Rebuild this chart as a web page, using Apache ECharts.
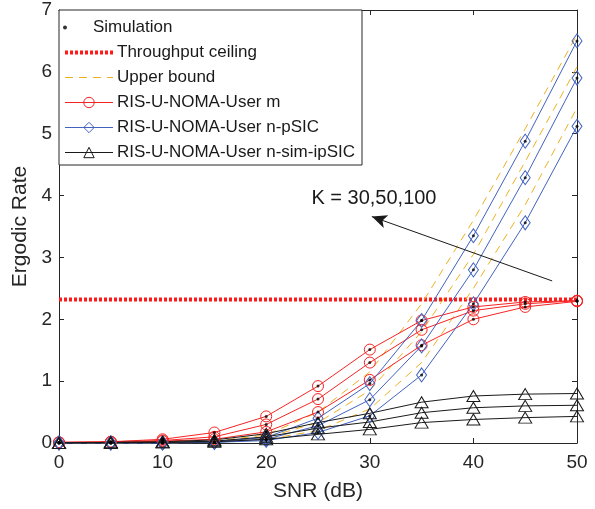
<!DOCTYPE html>
<html lang="en">
<head>
  <meta charset="UTF-8">
  <title>Ergodic Rate vs SNR</title>
  <script src="https://cdn.jsdelivr.net/npm/echarts@6/dist/echarts.min.js"></script>
  <style>
    html, body { margin: 0; padding: 0; background: #fff; }
    #echarts { width: 595px; height: 509px; }
  </style>
</head>
<body>
  <div id="echarts"></div>
  <script>
    // SNR (dB) sample points
    let snr = [0, 5, 10, 15, 20, 25, 30, 35, 40, 45, 50]
    let xTicks = [0, 10, 20, 30, 40, 50]
    let yTicks = [0, 1, 2, 3, 4, 5, 6, 7]

    // RIS-U-NOMA-User m
    let userM100 = [0.01, 0.02, 0.06, 0.17, 0.43, 0.92, 1.51, 1.98, 2.20, 2.28, 2.30]
    let userM50 = [0.01, 0.02, 0.04, 0.10, 0.30, 0.71, 1.30, 1.83, 2.14, 2.25, 2.30]
    let userM30 = [0.01, 0.01, 0.03, 0.06, 0.18, 0.50, 1.02, 1.58, 2.00, 2.20, 2.29]
    // RIS-U-NOMA-User n-pSIC
    let userN100 = [0, 0, 0, 0.02, 0.09, 0.40, 0.96, 1.98, 3.35, 4.88, 6.50]
    let userN50 = [0, 0, 0, 0.01, 0.06, 0.28, 0.70, 1.57, 2.80, 4.29, 5.90]
    let userN30 = [0, 0, 0, 0.01, 0.04, 0.17, 0.44, 1.10, 2.25, 3.56, 5.12]
    // Upper bound of n-pSIC
    let upper100 = [0, 0, 0.01, 0.03, 0.13, 0.50, 1.15, 2.25, 3.60, 5.08, 6.60]
    let upper50 = [0, 0, 0, 0.02, 0.09, 0.33, 0.85, 1.80, 3.05, 4.55, 6.08]
    let upper30 = [0, 0, 0, 0.01, 0.06, 0.20, 0.55, 1.30, 2.50, 3.85, 5.42]
    // RIS-U-NOMA-User n-sim-ipSIC
    let userS100 = [0, 0.01, 0.02, 0.05, 0.15, 0.33, 0.48, 0.66, 0.76, 0.79, 0.80]
    let userS50 = [0, 0.01, 0.01, 0.03, 0.10, 0.24, 0.34, 0.49, 0.57, 0.60, 0.61]
    let userS30 = [0, 0, 0.01, 0.02, 0.06, 0.14, 0.22, 0.33, 0.38, 0.41, 0.43]
    // throughput ceiling
    let ceiling = 2.32
    let ceilingRange = [0, 50]
    // annotation arrow (tail -> head) and its label, in data units
    let arrowFrom = [47.6, 2.62]
    let arrowTo = [30.2, 3.66]
    let kText = 'K = 30,50,100'
    let kTextAt = [30.4, 3.96]

    const RED = '#f52424'
    const BLUE = '#4262be'
    const BLACK = '#1a1a1a'
    const ORANGE = '#edb120'
    const AXIS = '#262626'
    const FONT = 'Liberation Sans, Arial, Helvetica, sans-serif'

    const pairs = arr => snr.map((s, i) => [s, arr[i]])

    function curve(name, arr, color, symbol, size) {
      return {
        name, type: 'line', data: pairs(arr),
        symbol, symbolSize: size, showSymbol: true,
        lineStyle: { color, width: 1 },
        itemStyle: { color: 'transparent', borderColor: color, borderWidth: 1 },
        emphasis: { disabled: true }, silent: true, animation: false, z: 3
      }
    }
    function bound(arr) {
      return {
        name: 'Upper bound', type: 'line', data: pairs(arr), symbol: 'none',
        lineStyle: { color: ORANGE, width: 1, type: [8, 6] },
        itemStyle: { color: ORANGE },
        silent: true, animation: false, z: 2
      }
    }

    let series = []
    series.push({
      name: 'Throughput ceiling', type: 'line',
      data: ceilingRange.map(x => [x, ceiling]), symbol: 'none',
      lineStyle: { color: '#ff1a1a', width: 4, type: [3, 2] },
      itemStyle: { color: '#ff1a1a' },
      silent: true, animation: false, z: 2,
      markLine: {
        silent: true, animation: false,
        symbol: ['none', 'arrow'], symbolSize: [10, 15],
        lineStyle: { color: BLACK, width: 1, type: 'solid' },
        label: { show: false },
        data: [[{ coord: arrowFrom }, { coord: arrowTo }]]
      },
      markPoint: {
        silent: true, animation: false, symbol: 'circle', symbolSize: 0,
        label: { show: true, position: 'inside', formatter: kText, color: BLACK, fontSize: 20, fontFamily: FONT },
        data: [{ coord: kTextAt }]
      }
    })
    ;[upper100, upper50, upper30].forEach(a => series.push(bound(a)))
    ;[userM100, userM50, userM30].forEach(a => series.push(curve('RIS-U-NOMA-User m', a, RED, 'circle', 11)))
    ;[userN100, userN50, userN30].forEach(a => series.push(curve('RIS-U-NOMA-User n-pSIC', a, BLUE, 'diamond', [10, 14])))
    ;[userS100, userS50, userS30].forEach(a => series.push(curve('RIS-U-NOMA-User n-sim-ipSIC', a, BLACK, 'triangle', [13, 11])))

    // simulation dots on the analytical curves
    let simData = []
    ;[userM100, userM50, userM30, userN100, userN50, userN30].forEach(a => { simData = simData.concat(pairs(a)) })
    series.push({
      name: 'Simulation', type: 'scatter', data: simData,
      symbol: 'circle', symbolSize: 3, itemStyle: { color: '#000' },
      silent: true, animation: false, z: 5
    })

    const legendText = { fontSize: 17, color: BLACK, fontFamily: FONT, padding: [0, 0, 0, -1] }
    const legendItems = [
      { name: 'Throughput ceiling', itemStyle: { opacity: 0 }, lineStyle: { color: '#ff1a1a', width: 4, type: [3, 2] } },
      { name: 'Upper bound', itemStyle: { opacity: 0 }, lineStyle: { color: ORANGE, width: 1.2, type: [8, 6] } },
      { name: 'RIS-U-NOMA-User m', itemStyle: { color: 'transparent', borderColor: RED, borderWidth: 1 }, lineStyle: { color: RED, width: 1 } },
      { name: 'RIS-U-NOMA-User n-pSIC', itemStyle: { color: 'transparent', borderColor: BLUE, borderWidth: 1 }, lineStyle: { color: BLUE, width: 1 } },
      { name: 'RIS-U-NOMA-User n-sim-ipSIC', itemStyle: { color: 'transparent', borderColor: BLACK, borderWidth: 1 }, lineStyle: { color: BLACK, width: 1 } }
    ]

    let option = {
      backgroundColor: '#fff',
      animation: false,
      grid: { left: 59, right: 18, top: 10, bottom: 66 },
      legend: [
        {
          data: legendItems, orient: 'vertical', left: 59, top: 10,
          padding: [34, 7, 4, 4], itemWidth: 48, itemHeight: 13, itemGap: 8,
          borderColor: AXIS, borderWidth: 1, backgroundColor: '#fff',
          textStyle: legendText, selectedMode: false, z: 10
        },
        {
          data: ['Simulation'], orient: 'vertical', left: 63, top: 19,
          padding: 0, itemWidth: 48, itemHeight: 4,
          textStyle: legendText, selectedMode: false, z: 11
        }
      ],
      xAxis: [
        {
          type: 'value', min: xTicks[0], max: xTicks[xTicks.length - 1], interval: xTicks[1] - xTicks[0],
          name: 'SNR (dB)', nameLocation: 'middle', nameGap: 38,
          nameTextStyle: { fontSize: 21, color: AXIS, fontFamily: FONT },
          axisLine: { onZero: false, lineStyle: { color: AXIS, width: 1 } },
          axisTick: { inside: true, length: 5, lineStyle: { color: AXIS } },
          axisLabel: { fontSize: 19, color: AXIS, fontFamily: FONT, margin: 10 },
          splitLine: { show: false }
        },
        {
          type: 'value', position: 'top', min: xTicks[0], max: xTicks[xTicks.length - 1], interval: xTicks[1] - xTicks[0],
          axisLine: { onZero: false, lineStyle: { color: AXIS, width: 1 } },
          axisTick: { inside: true, length: 5, lineStyle: { color: AXIS } },
          axisLabel: { show: false }, splitLine: { show: false }
        }
      ],
      yAxis: [
        {
          type: 'value', min: yTicks[0], max: yTicks[yTicks.length - 1], interval: yTicks[1] - yTicks[0],
          name: 'Ergodic Rate', nameLocation: 'middle', nameGap: 25,
          nameTextStyle: { fontSize: 21, color: AXIS, fontFamily: FONT },
          axisLine: { show: true, onZero: false, lineStyle: { color: AXIS, width: 1 } },
          axisTick: { show: true, inside: true, length: 5, lineStyle: { color: AXIS } },
          axisLabel: { fontSize: 19, color: AXIS, fontFamily: FONT, margin: 7 },
          splitLine: { show: false }
        },
        {
          type: 'value', position: 'right', min: yTicks[0], max: yTicks[yTicks.length - 1], interval: yTicks[1] - yTicks[0],
          axisLine: { show: true, onZero: false, lineStyle: { color: AXIS, width: 1 } },
          axisTick: { show: true, inside: true, length: 5, lineStyle: { color: AXIS } },
          axisLabel: { show: false }, splitLine: { show: false }
        }
      ],
      series
    }

    let charts = echarts.init(document.querySelector('#echarts'))
    charts.setOption(option)
  </script>
</body>
</html>
